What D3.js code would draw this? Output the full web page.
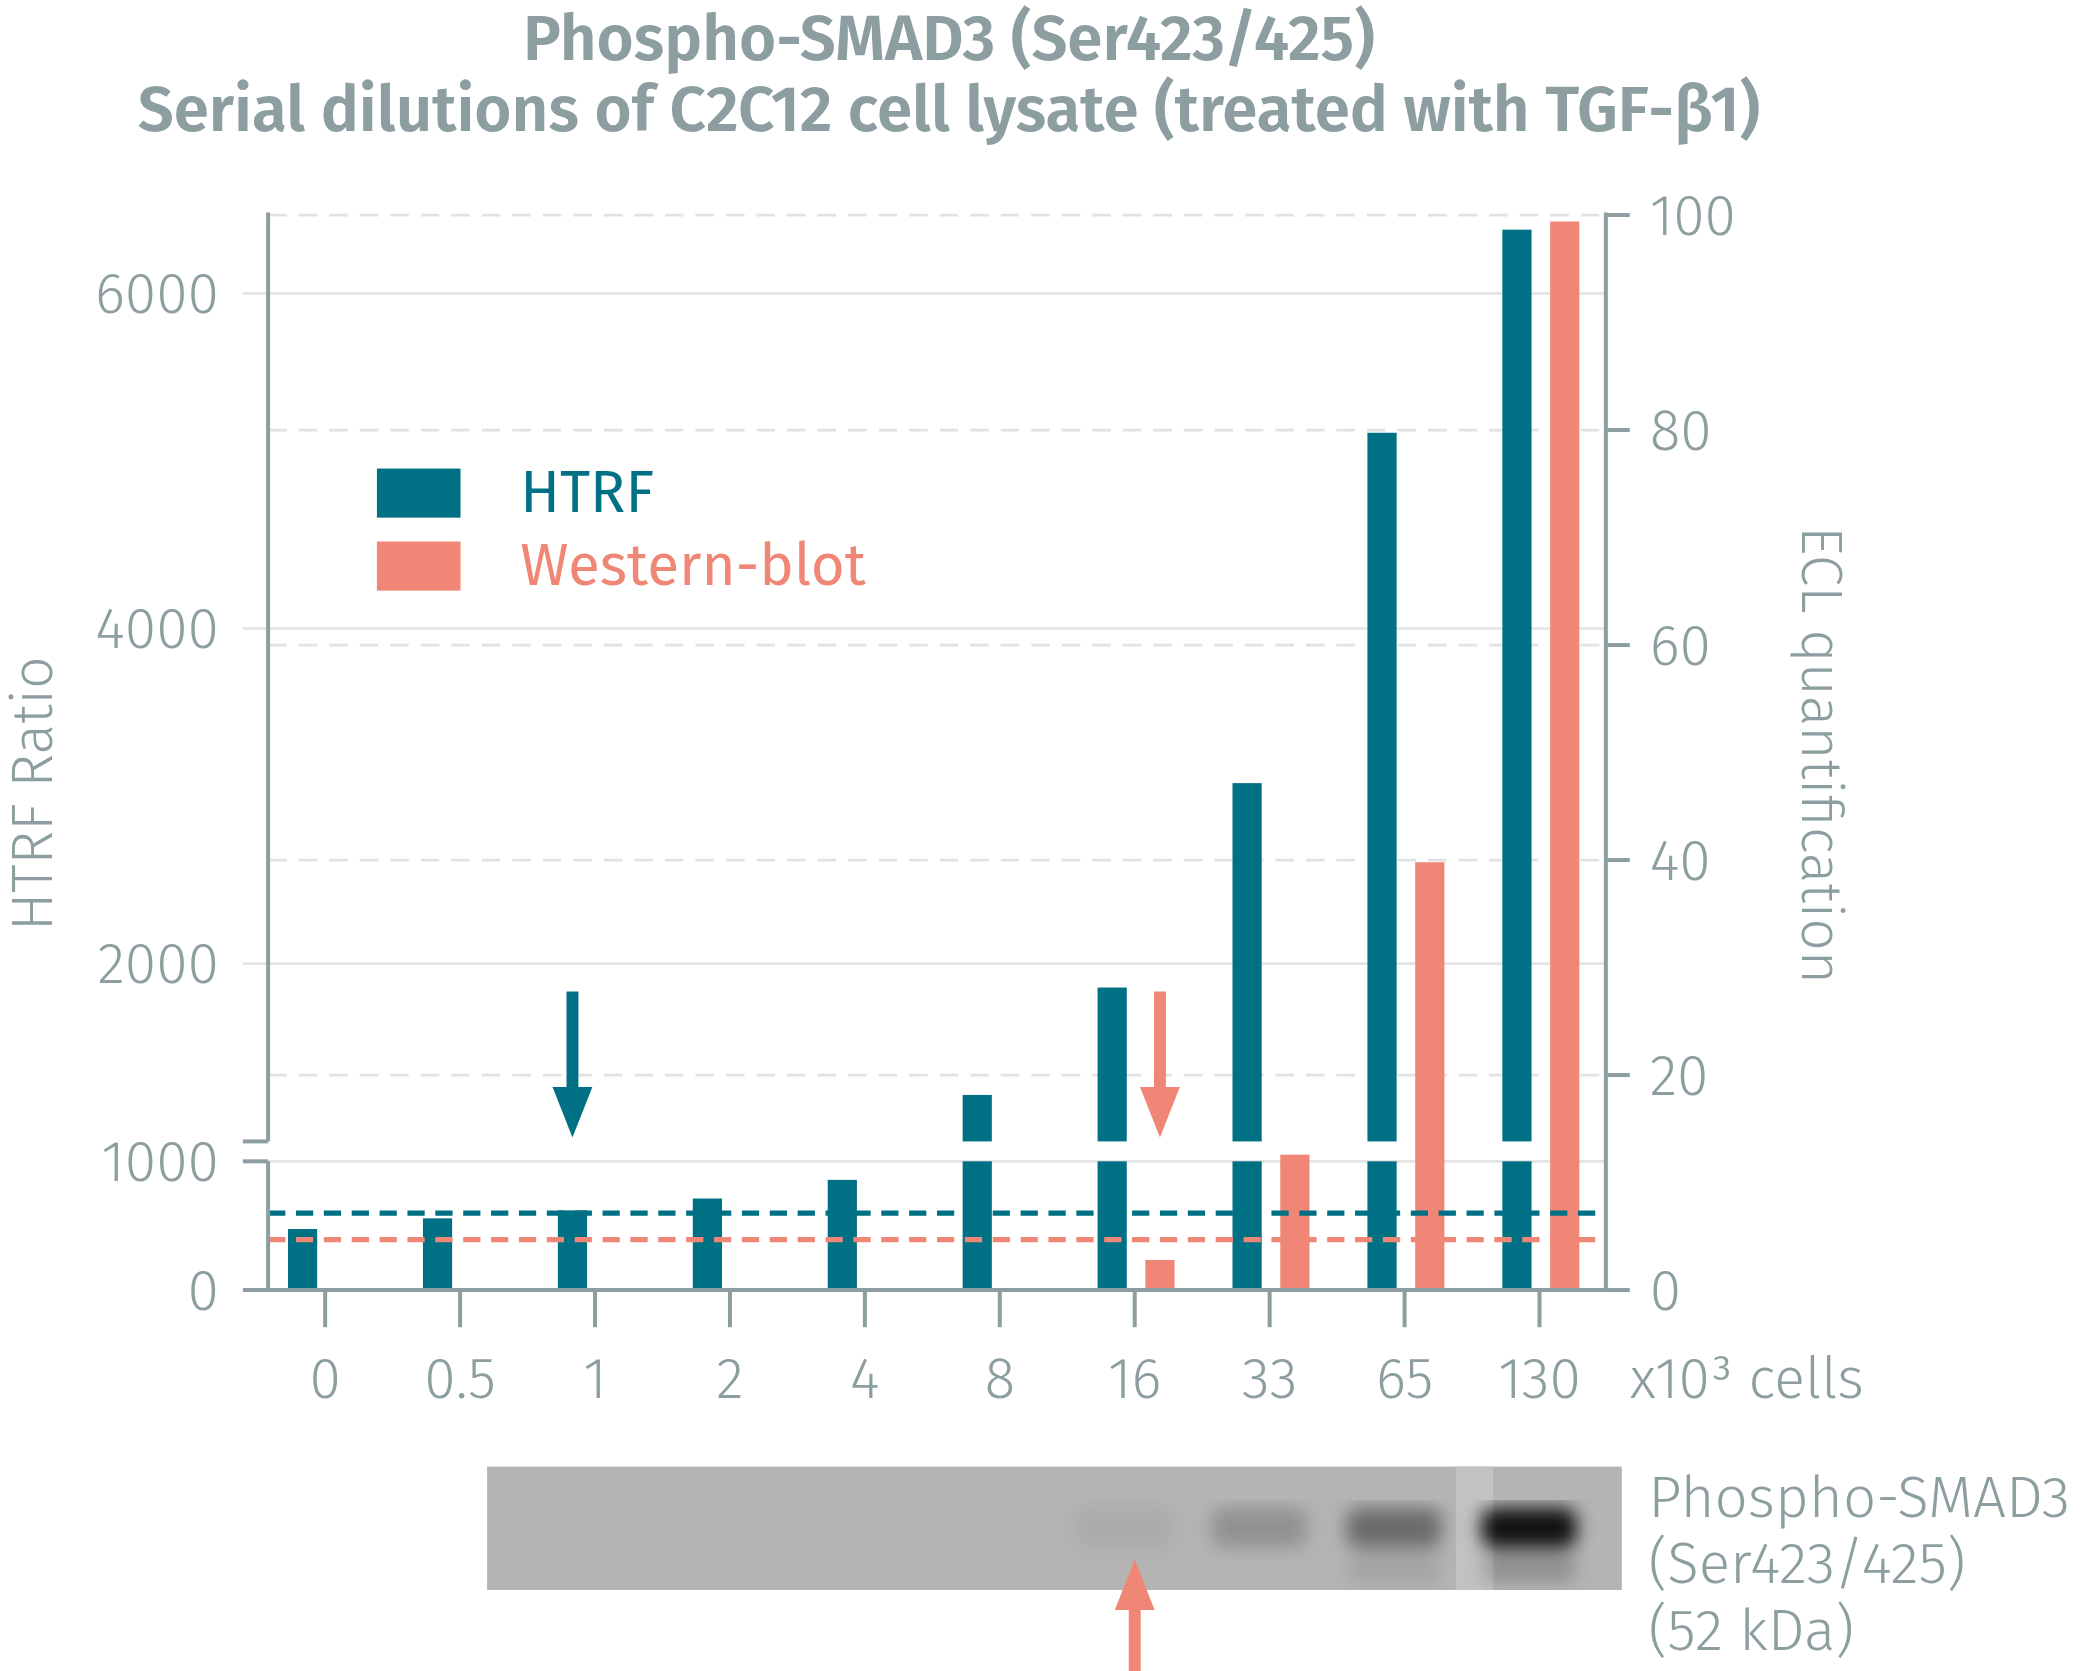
<!DOCTYPE html>
<html><head><meta charset="utf-8">
<script src="https://cdn.jsdelivr.net/npm/d3@7"></script>
<style>body{margin:0;background:#fff}text{font-family:"Fira Sans","Open Sans","Noto Sans",sans-serif}</style>
</head><body><svg id="c" width="2081" height="1671" viewBox="0 0 1568 1259"></svg>
<script>
// data
const cells = ["0","0.5","1","2","4","8","16","33","65","130"]
const htrf = [474, 557, 619, 711, 856, 1216, 1857, 3077, 5168, 6380]
const western = [null, null, null, null, null, null, 2.8, 12.6, 39.8, 99.4]
const htrfCutoff = 598
const westernCutoff = 4.7
const leftTicks = [0, 1000, 2000, 4000, 6000]
const rightTicks = [0, 20, 40, 60, 80, 100]
const bands = [0, 0, 0, 0, 0, 0, 0.06, 0.22, 0.45, 1]

const teal = "#007185", salmon = "#f08676", grey = "#8c9ea0"
const svg = d3.select("#c")

const x = d3.scalePoint().domain(cells).range([245, 1160])
const yLow = d3.scaleLinear().domain([0, 1000]).range([972, 875])
const yHigh = d3.scaleLinear().domain([2000, 6000]).range([726, 221])
const breakY = 860
const yR = d3.scaleLinear().domain([0, 100]).range([972, 162])

// title
svg.selectAll(".title").data(["Phospho-SMAD3 (Ser423/425)", "Serial dilutions of C2C12 cell lysate (treated with TGF-β1)"])
  .enter().append("text").attr("x", 715).attr("y", (d, i) => 45 + i * 54)
  .attr("text-anchor", "middle").attr("font-size", 48).attr("font-weight", 600).attr("fill", grey).text(d => d)

// grid
svg.selectAll(".gr").data(rightTicks.slice(1)).enter().append("line")
  .attr("x1", 202).attr("x2", 1210).attr("y1", d => yR(d)).attr("y2", d => yR(d))
  .attr("stroke", "#e2e2e2").attr("stroke-width", 2).attr("stroke-dasharray", "14,9")
svg.selectAll(".gl").data(leftTicks.slice(1)).enter().append("line")
  .attr("x1", 183).attr("x2", 1210).attr("y1", d => d <= 1000 ? yLow(d) : yHigh(d)).attr("y2", d => d <= 1000 ? yLow(d) : yHigh(d))
  .attr("stroke", "#e4e4e4").attr("stroke-width", 2)

// bars
const bw = 22
htrf.forEach((v, i) => {
  const cx = x(cells[i]) - 17
  svg.append("rect").attr("x", cx - bw / 2).attr("width", bw).attr("fill", teal)
    .attr("y", yLow(Math.min(v, 1000))).attr("height", yLow(0) - yLow(Math.min(v, 1000)))
  if (v > 1000) svg.append("rect").attr("x", cx - bw / 2).attr("width", bw).attr("fill", teal)
    .attr("y", yHigh(v)).attr("height", breakY - yHigh(v))
})
western.forEach((v, i) => {
  if (v == null) return
  svg.append("rect").attr("x", x(cells[i]) + 19 - bw / 2).attr("width", bw).attr("fill", salmon)
    .attr("y", yR(v)).attr("height", yR(0) - yR(v))
})

// cutoff lines
svg.append("line").attr("x1", 202).attr("x2", 1210).attr("y1", yLow(htrfCutoff)).attr("y2", yLow(htrfCutoff))
  .attr("stroke", teal).attr("stroke-width", 4).attr("stroke-dasharray", "13,8")
svg.append("line").attr("x1", 202).attr("x2", 1210).attr("y1", yR(westernCutoff)).attr("y2", yR(westernCutoff))
  .attr("stroke", salmon).attr("stroke-width", 4).attr("stroke-dasharray", "13,8")

// axes
const ax = svg.append("g").attr("stroke", grey).attr("stroke-width", 3)
ax.append("line").attr("x1", 202).attr("x2", 202).attr("y1", 160).attr("y2", breakY)
ax.append("line").attr("x1", 202).attr("x2", 202).attr("y1", yLow(1000)).attr("y2", 972)
ax.append("line").attr("x1", 183).attr("x2", 202).attr("y1", breakY).attr("y2", breakY)
ax.append("line").attr("x1", 183).attr("x2", 202).attr("y1", yLow(1000)).attr("y2", yLow(1000))
ax.append("line").attr("x1", 183).attr("x2", 1210).attr("y1", 972).attr("y2", 972)
ax.append("line").attr("x1", 1210).attr("x2", 1210).attr("y1", 160).attr("y2", 972)
ax.selectAll(".rt").data(rightTicks).enter().append("line")
  .attr("x1", 1210).attr("x2", 1228).attr("y1", d => yR(d)).attr("y2", d => yR(d))
ax.selectAll(".xt").data(cells).enter().append("line")
  .attr("x1", d => x(d)).attr("x2", d => x(d)).attr("y1", 972).attr("y2", 1000)

const lab = { "font-size": 43, "font-weight": 300, fill: grey }
function styl(s) { Object.entries(lab).forEach(([k, v]) => s.attr(k, v)); return s }
styl(svg.selectAll(".lt").data(leftTicks).enter().append("text")
  .attr("x", 165).attr("y", d => (d <= 1000 ? yLow(d) : yHigh(d)) + 15).attr("text-anchor", "end").text(d => d))
styl(svg.selectAll(".rtl").data(rightTicks).enter().append("text")
  .attr("x", 1243).attr("y", d => yR(d) + 15).text(d => d))
styl(svg.selectAll(".xl").data(cells).enter().append("text")
  .attr("x", d => x(d)).attr("y", 1053).attr("text-anchor", "middle").text(d => d))
styl(svg.append("text").attr("x", 1228).attr("y", 1053).text("x10³ cells"))
styl(svg.append("text").attr("transform", "translate(39,598) rotate(-90)").attr("text-anchor", "middle").text("HTRF Ratio"))
styl(svg.append("text").attr("transform", "translate(1358,569) rotate(90)").attr("text-anchor", "middle").text("ECL quantification"))

// legend
svg.append("rect").attr("x", 284).attr("y", 353).attr("width", 63).attr("height", 37).attr("fill", teal)
svg.append("rect").attr("x", 284).attr("y", 408).attr("width", 63).attr("height", 37).attr("fill", salmon)
svg.append("text").attr("x", 392).attr("y", 386).attr("font-size", 44).attr("fill", teal).text("HTRF")
svg.append("text").attr("x", 392).attr("y", 441).attr("font-size", 44).attr("fill", salmon).text("Western-blot")

// arrows
function arrow(cx, y1, y2, col) {
  const dir = y2 > y1 ? 1 : -1
  svg.append("line").attr("x1", cx).attr("x2", cx).attr("y1", y1).attr("y2", y2 - dir * 30)
    .attr("stroke", col).attr("stroke-width", 9)
  svg.append("path").attr("d", `M${cx - 15},${y2 - dir * 38}L${cx + 15},${y2 - dir * 38}L${cx},${y2}Z`).attr("fill", col)
}
arrow(x("1") - 17, 747, 857, teal)
arrow(x("16") + 19, 747, 857, salmon)

// blot
const defs = svg.append("defs")
defs.append("filter").attr("id", "bl").append("feGaussianBlur").attr("stdDeviation", 7)
const blot = svg.append("g")
blot.append("rect").attr("x", 367).attr("y", 1105).attr("width", 855).attr("height", 93).attr("fill", "#b4b4b4")
blot.append("rect").attr("x", 1097).attr("y", 1105).attr("width", 28).attr("height", 93).attr("fill", "#c2c2c2")
const bg = blot.append("g").attr("filter", "url(#bl)")
bands.forEach((b, i) => {
  if (!b) return
  const cx = x(cells[i]) - 8
  bg.append("rect").attr("x", cx - 36).attr("y", 1136).attr("width", 72).attr("height", 30).attr("rx", 10)
    .attr("fill", "#000").attr("opacity", b * 0.9)
  if (b > 0.4) bg.append("rect").attr("x", cx - 34).attr("y", 1170).attr("width", 68).attr("height", 22)
    .attr("fill", "#000").attr("opacity", b * 0.2)
})
arrow(x("16"), 1259, 1175, salmon)
svg.selectAll(".bt").data(["Phospho-SMAD3", "(Ser423/425)", "(52 kDa)"]).enter().append("text")
  .attr("x", 1242).attr("y", (d, i) => 1143 + i * 50).attr("font-size", 44).attr("font-weight", 300).attr("fill", grey).text(d => d)
</script></body></html>
